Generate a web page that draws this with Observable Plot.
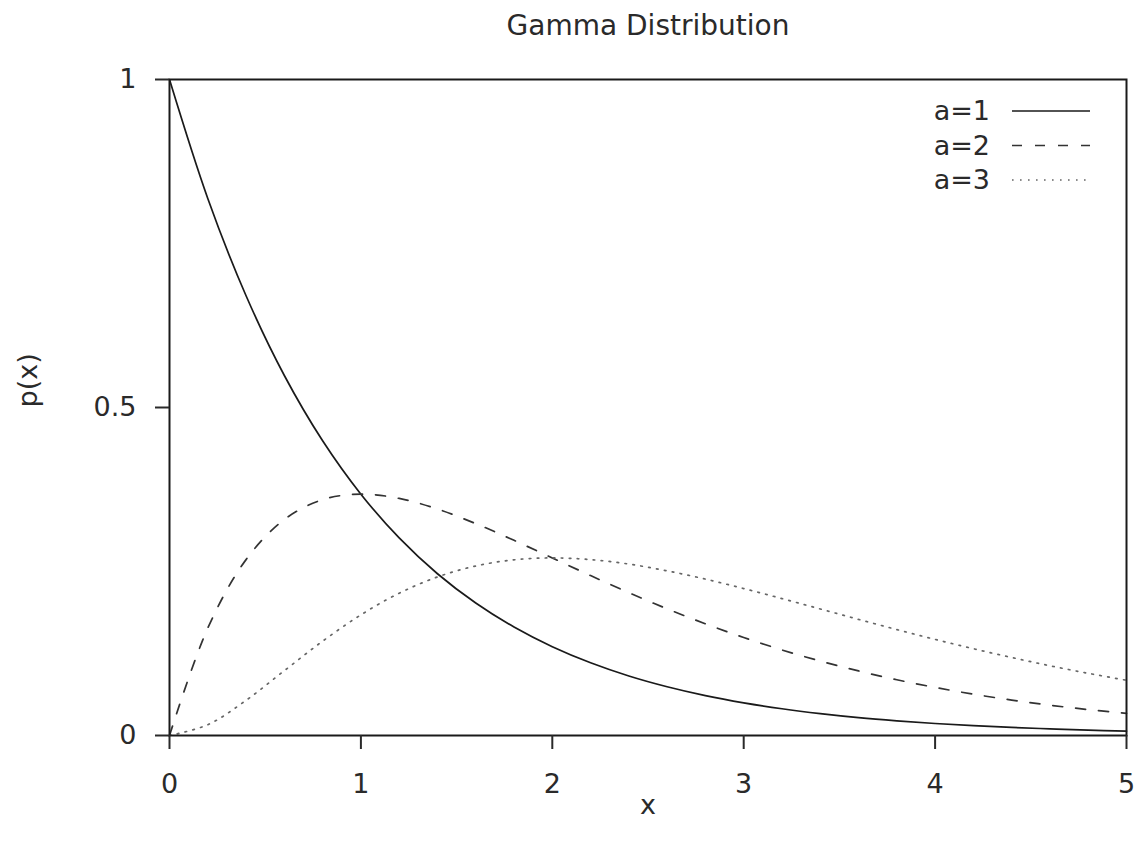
<!DOCTYPE html>
<html>
<head>
<meta charset="utf-8">
<script src="https://cdn.jsdelivr.net/npm/d3@7"></script>
<script src="https://cdn.jsdelivr.net/npm/@observablehq/plot@0.6"></script>
<style>
  html, body { margin: 0; padding: 0; background: #fff; }
  svg { display: block; }
</style>
</head>
<body>
<div id="chart"></div>
<script>
// Sample positions along x
const xs = [0, 0.2, 0.4, 0.6, 0.8, 1.0, 1.2, 1.4, 1.6, 1.8, 2.0, 2.2, 2.4, 2.6, 2.8, 3.0, 3.2, 3.4, 3.6, 3.8, 4.0, 4.2, 4.4, 4.6, 4.8, 5.0];
// p(x) values
const a1 = [1, 0.8187, 0.6703, 0.5488, 0.4493, 0.3679, 0.3012, 0.2466, 0.2019, 0.1653, 0.1353, 0.1108, 0.0907, 0.0743, 0.0608, 0.0498, 0.0408, 0.0334, 0.0273, 0.0224, 0.0183, 0.0150, 0.0123, 0.0101, 0.0082, 0.0067];
const a2 = [0, 0.1637, 0.2681, 0.3293, 0.3595, 0.3679, 0.3614, 0.3452, 0.3230, 0.2975, 0.2707, 0.2438, 0.2177, 0.1931, 0.1703, 0.1494, 0.1304, 0.1135, 0.0984, 0.0850, 0.0733, 0.0630, 0.0540, 0.0462, 0.0395, 0.0337];
const a3 = [0, 0.0164, 0.0536, 0.0988, 0.1438, 0.1839, 0.2169, 0.2417, 0.2584, 0.2678, 0.2707, 0.2681, 0.2613, 0.2510, 0.2384, 0.2240, 0.2087, 0.1929, 0.1770, 0.1615, 0.1465, 0.1323, 0.1189, 0.1063, 0.0948, 0.0842];
const seriesNames = ["a=1", "a=2", "a=3"];
const xTicks = [0, 1, 2, 3, 4, 5];
const yTicks = [0, 0.5, 1];
const titleText = "Gamma Distribution";
const xLabel = "x";
const yLabel = "p(x)";

const seriesValues = [a1, a2, a3];
const styles = [
  {stroke: "#1a1a1a", dash: null, width: 1.7},
  {stroke: "#333", dash: "10,13", width: 1.7},
  {stroke: "#666", dash: "1.6,6.4", width: 1.7}
];
const tables = seriesValues.map(vals => xs.map((x, i) => ({x, y: vals[i]})));

const font = "'DejaVu Sans', sans-serif";
const textColor = "#2a2a2a";

const chart = Plot.plot({
  width: 1137,
  height: 848,
  marginLeft: 169,
  marginRight: 11,
  marginTop: 79,
  marginBottom: 113,
  style: {fontFamily: font, fontSize: "27px", color: textColor, background: "#fff"},
  x: {domain: [0, 5]},
  y: {domain: [0, 1]},
  marks: [
    ...tables.map((t, i) => Plot.line(t, {
      x: "x", y: "y", curve: "catmull-rom",
      stroke: styles[i].stroke, strokeWidth: styles[i].width,
      strokeDasharray: styles[i].dash
    })),
    Plot.frame({stroke: "#1a1a1a", strokeWidth: 2}),
    Plot.axisX({ticks: xTicks, tickSize: 14, tickPadding: 24, tickFormat: d => String(d), label: null, strokeWidth: 2, fontSize: 27, fill: textColor}),
    Plot.axisY({ticks: yTicks, tickSize: 14, tickPadding: 19, tickFormat: d => String(d), label: null, strokeWidth: 2, fontSize: 27, fill: textColor}),
    Plot.text([titleText], {frameAnchor: "top", dy: -53, fontSize: 28, fill: textColor, lineAnchor: "middle"}),
    Plot.text([xLabel], {frameAnchor: "bottom", dy: 70, fontSize: 27, fill: textColor, lineAnchor: "middle"}),
    Plot.text([yLabel], {frameAnchor: "left", dx: -141, rotate: -90, fontSize: 27, fill: textColor, lineAnchor: "middle"})
  ]
});

// Legend (inside top-right of the frame)
const svg = d3.select(chart);
const leg = svg.append("g").attr("font-family", font).attr("font-size", 27);
seriesNames.forEach((name, i) => {
  const yy = 111 + i * 34.5;
  leg.append("text").attr("x", 990).attr("y", yy).attr("dy", "0.35em")
    .attr("text-anchor", "end").attr("fill", textColor).text(name);
  leg.append("line").attr("x1", 1012).attr("x2", 1090).attr("y1", yy).attr("y2", yy)
    .attr("stroke", styles[i].stroke).attr("stroke-width", styles[i].width)
    .attr("stroke-dasharray", styles[i].dash);
});

document.getElementById("chart").appendChild(chart);
</script>
</body>
</html>
